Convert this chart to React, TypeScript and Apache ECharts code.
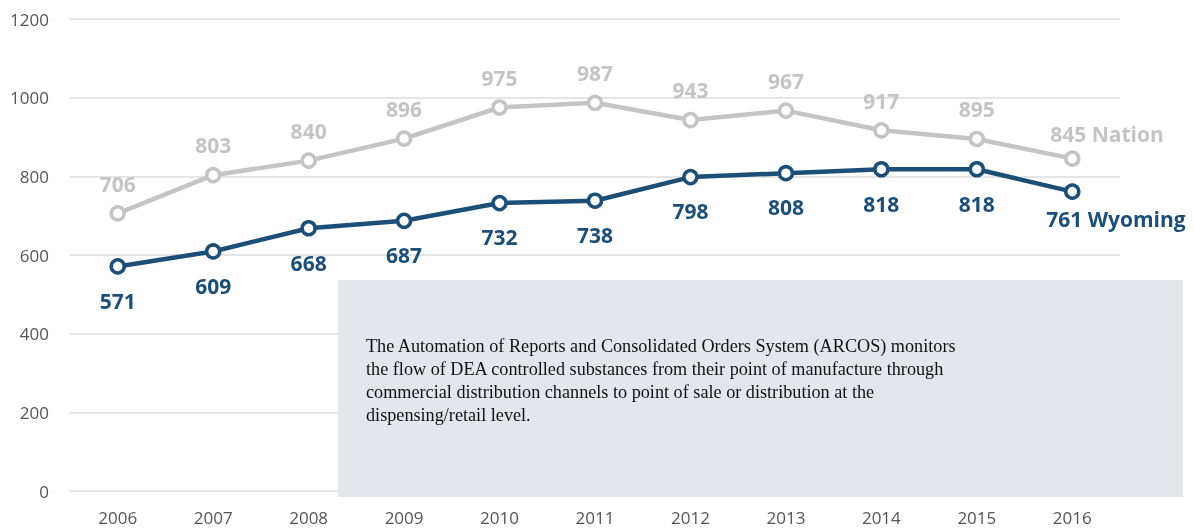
import React, { useEffect, useRef } from "react";
import * as echarts from "echarts";

const years = ["2006", "2007", "2008", "2009", "2010", "2011", "2012", "2013", "2014", "2015", "2016"];
const nation = [706, 803, 840, 896, 975, 987, 943, 967, 917, 895, 845];
const wyoming = [571, 609, 668, 687, 732, 738, 798, 808, 818, 818, 761];
const noteLines = [
  "The Automation of Reports and Consolidated Orders System (ARCOS) monitors",
  "the flow of DEA controlled substances from their point of manufacture through",
  "commercial distribution channels to point of sale or distribution at the",
  "dispensing/retail level.",
];

const NATION_COLOR = "#c4c4c4";
const WY_COLOR = "#1c4f78";

export default function App() {
  const ref = useRef<HTMLDivElement>(null);
  useEffect(() => {
    const chart = echarts.init(ref.current!, null, { renderer: "svg" });
    const last = years.length - 1;
    const labelFont = { fontFamily: "Open Sans", fontWeight: "bold" as const, fontSize: 21 };
    chart.setOption({
      animation: false,
      grid: { left: 70, right: 74, top: 19, bottom: 38 },
      xAxis: {
        type: "category",
        data: years,
        boundaryGap: true,
        axisLine: { show: false },
        axisTick: { show: false },
        axisLabel: { color: "#555", fontSize: 17, fontFamily: "Open Sans", margin: 18 },
      },
      yAxis: {
        type: "value",
        min: 0,
        max: 1200,
        interval: 200,
        axisLine: { show: false },
        axisTick: { show: false },
        axisLabel: {
          color: "#555",
          fontSize: 17,
          fontFamily: "Open Sans",
          margin: 21,
          formatter: (v: number) => String(v),
        },
        splitLine: { lineStyle: { color: "#dcdcdc", width: 1.5 } },
      },
      series: [
        {
          name: "Nation",
          type: "line",
          data: nation.map((v, i) =>
            i === last
              ? { value: v, label: { formatter: "{c} Nation", align: "left", offset: [-22, 0], distance: 5.5 } }
              : v
          ),
          lineStyle: { color: NATION_COLOR, width: 4.5 },
          itemStyle: { color: "#fff", borderColor: NATION_COLOR, borderWidth: 3.5 },
          symbol: "circle",
          symbolSize: 13,
          label: { show: true, position: "top", distance: 11, color: NATION_COLOR, ...labelFont },
          z: 3,
        },
        {
          name: "Wyoming",
          type: "line",
          data: wyoming.map((v, i) =>
            i === last
              ? { value: v, label: { formatter: "{c} Wyoming", align: "left", offset: [-26, 0], distance: 8.5 } }
              : v
          ),
          lineStyle: { color: WY_COLOR, width: 4.5 },
          itemStyle: { color: "#fff", borderColor: WY_COLOR, borderWidth: 3.5 },
          symbol: "circle",
          symbolSize: 13,
          label: { show: true, position: "bottom", distance: 15.5, color: WY_COLOR, ...labelFont },
          z: 4,
        },
      ],
      graphic: [
        {
          type: "rect",
          left: 338,
          top: 280,
          shape: { width: 845, height: 217 },
          style: { fill: "#e3e7eb" },
          z: 10,
        },
        {
          type: "text",
          left: 366,
          top: 334,
          z: 11,
          style: {
            text: noteLines.join("\n"),
            fill: "#111",
            font: "18.2px 'Liberation Serif', serif",
            lineHeight: 23,
          },
        },
      ],
    });
    return () => chart.dispose();
  }, []);
  return <div ref={ref} style={{ position: "fixed", left: 0, top: 0, width: 1194, height: 529 }} />;
}
